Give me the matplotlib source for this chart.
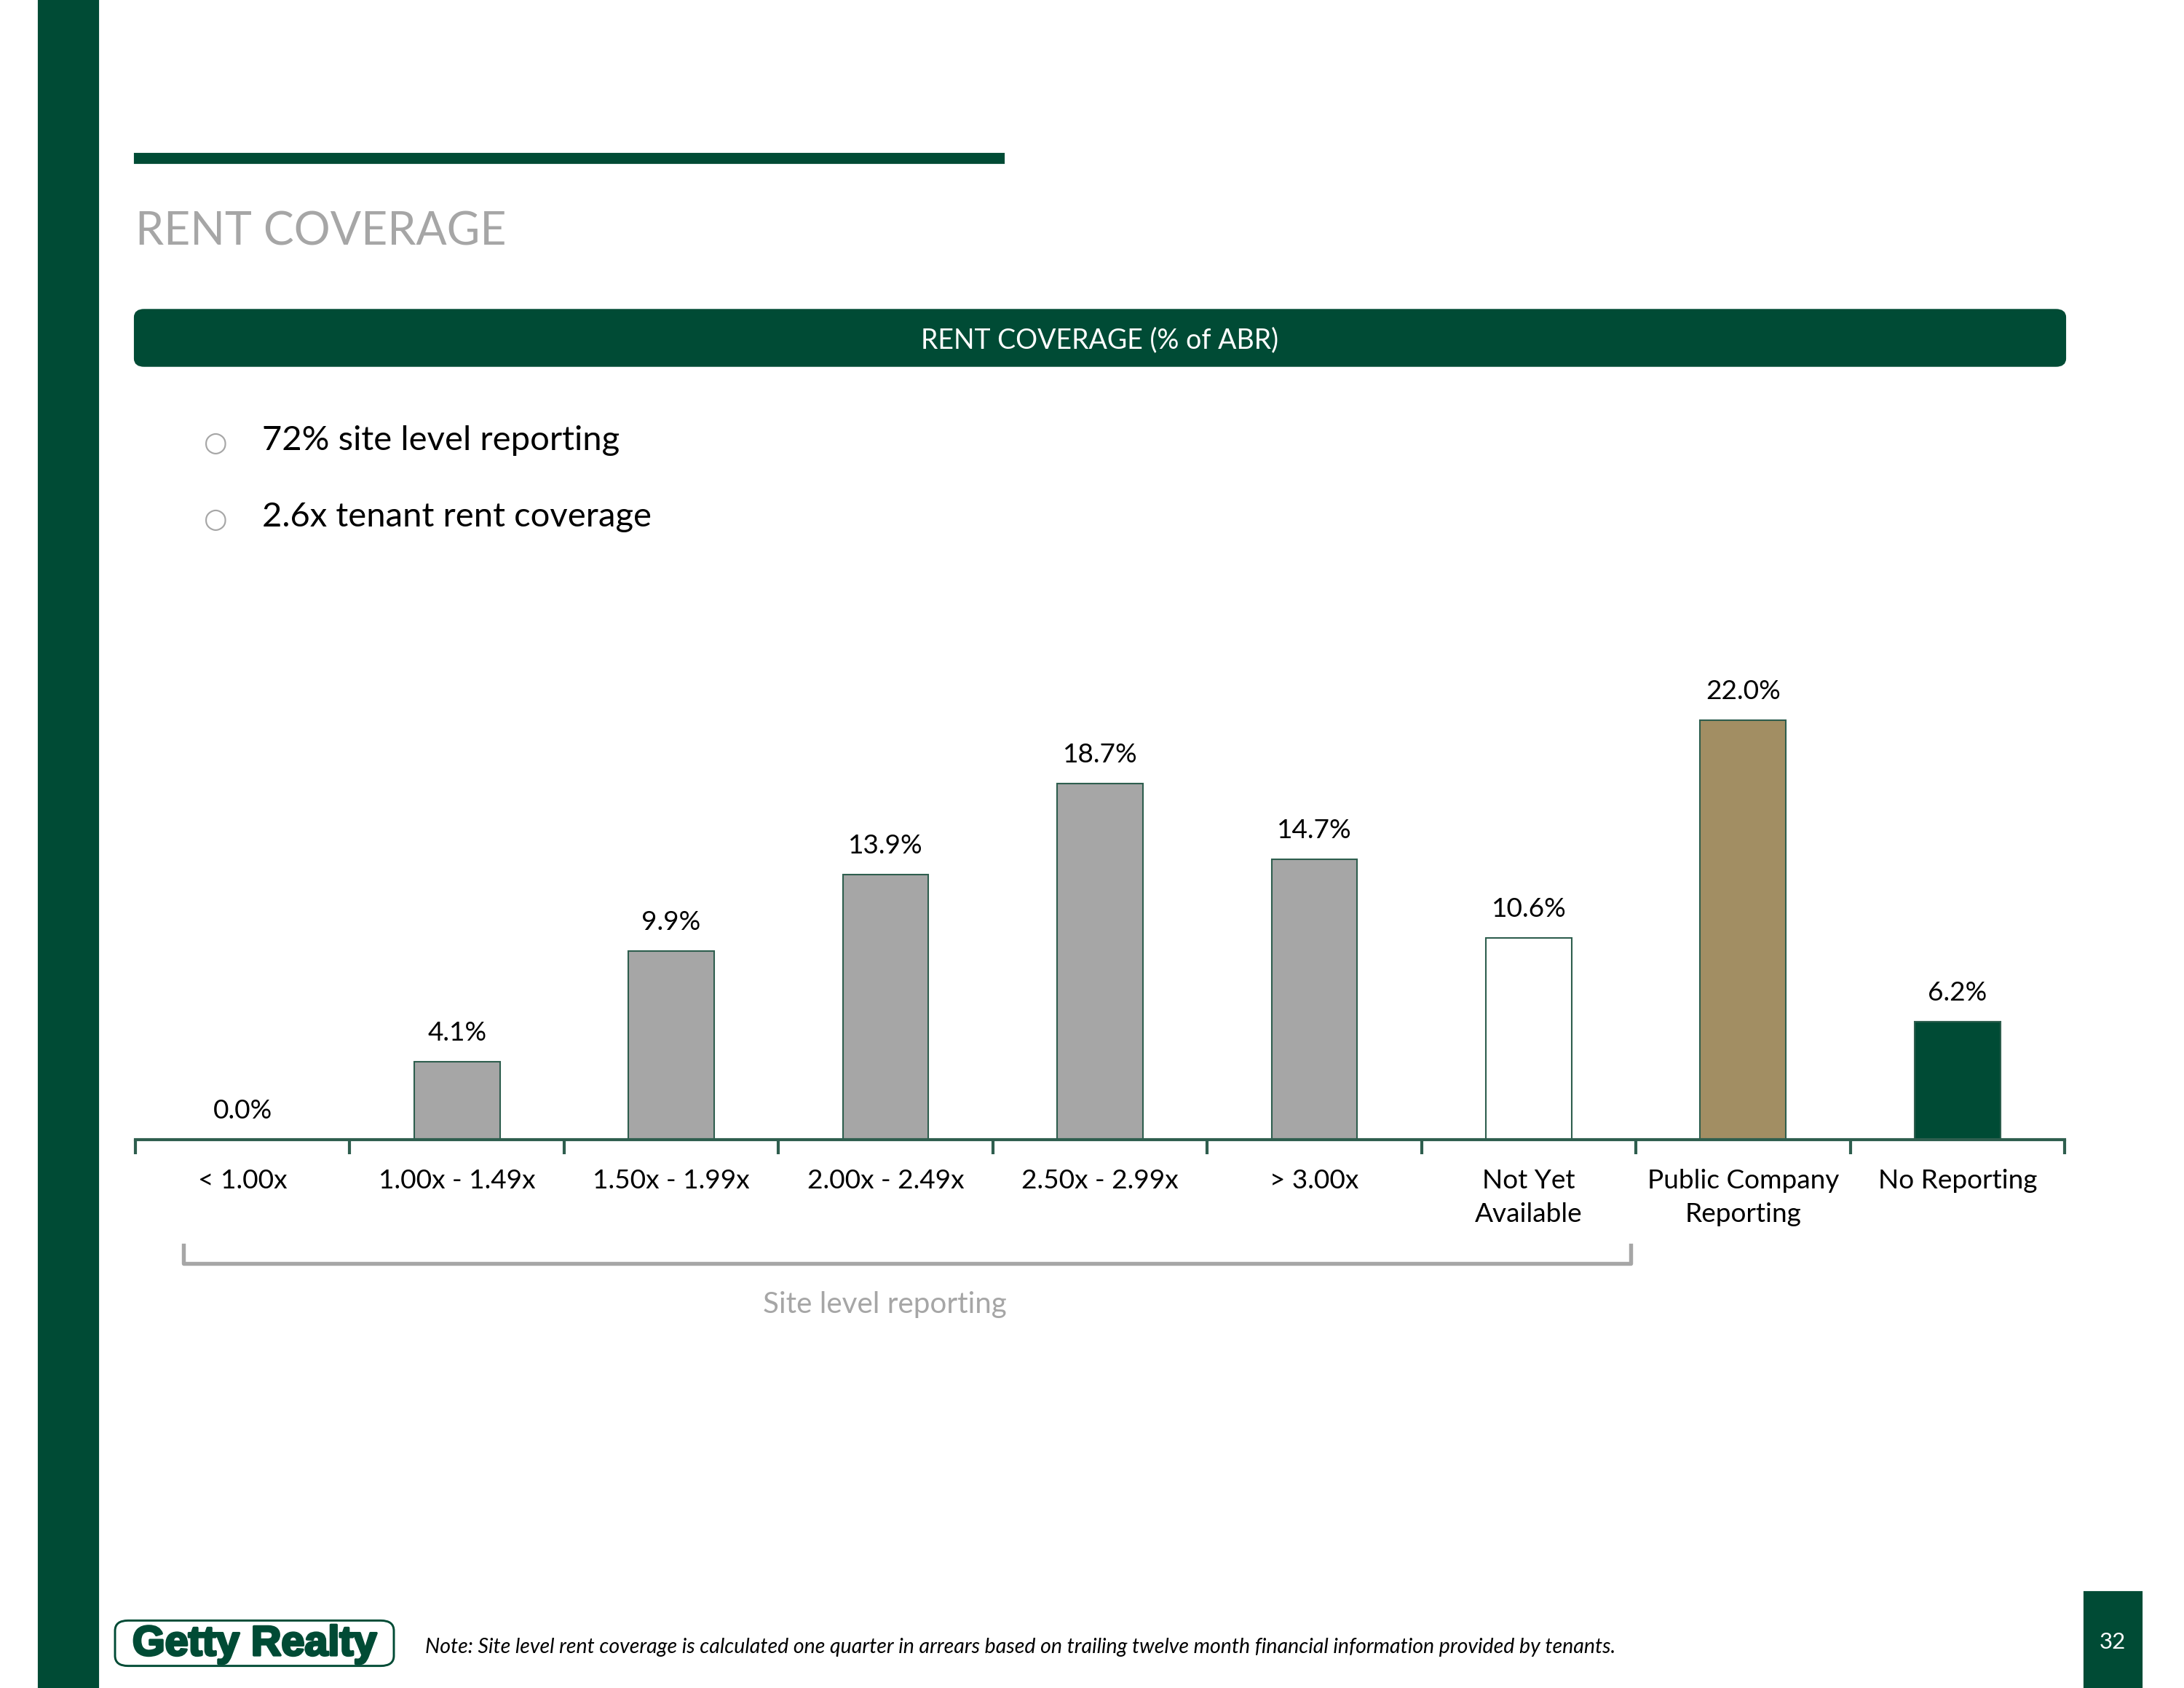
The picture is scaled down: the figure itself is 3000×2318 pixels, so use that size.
import matplotlib
matplotlib.use("Agg")
import matplotlib.pyplot as plt
import matplotlib.patheffects as pe
from matplotlib.patches import Rectangle, FancyBboxPatch
import numpy as np

W, H = 3000, 2318
GREEN = "#004B35"
EDGE = "#2E5E4E"
GRAY = "#A6A6A6"
TAN = "#A28E63"

categories = ["< 1.00x", "1.00x - 1.49x", "1.50x - 1.99x", "2.00x - 2.49x",
              "2.50x - 2.99x", "> 3.00x", "Not Yet\nAvailable",
              "Public Company\nReporting", "No Reporting"]
values = [0.0, 4.1, 9.9, 13.9, 18.7, 14.7, 10.6, 22.0, 6.2]
bar_colors = [GRAY] * 6 + ["#FFFFFF", TAN, GREEN]
bullets = ["72% site level reporting", "2.6x tenant rent coverage"]

plt.rcParams["font.family"] = ["Lato", "DejaVu Sans"]

fig = plt.figure(figsize=(W / 300, H / 300), dpi=300)
fig.patch.set_facecolor("white")


def fx(x):
    return x / W


def fy(y):
    return 1 - y / H


# page decoration
fig.patches.append(Rectangle((fx(54), 0), fx(134) - fx(54), 1,
                             transform=fig.transFigure, color=GREEN, zorder=0))
fig.patches.append(Rectangle((fx(186), fy(223)), fx(1378) - fx(186), (223 - 212) / H,
                             transform=fig.transFigure, color=GREEN, zorder=0))
fig.text(fx(186), fy(318), "RENT COVERAGE", color=GRAY, fontsize=15,
         ha="left", va="center")

banner = FancyBboxPatch((fx(192), fy(497)), fx(2830) - fx(192), (497 - 431) / H,
                        boxstyle="round,pad=0.002,rounding_size=0.004",
                        transform=fig.transFigure, facecolor=GREEN,
                        edgecolor=GREEN, zorder=0)
fig.patches.append(banner)
fig.text(fx(1511), fy(467), "RENT COVERAGE (% of ABR)", color="white",
         fontsize=9.0, ha="center", va="center")

for i, b in enumerate(bullets):
    yy = 605 + i * 105
    fig.text(fx(296), fy(yy + 4), "○", color=GRAY, fontsize=9,
             ha="center", va="center", family=["DejaVu Sans"])
    fig.text(fx(360), fy(yy), b, color="black", fontsize=11.3,
             ha="left", va="center")

# bar chart
ymax = 25
px_per = 26.17
base_y = 1565
ax = fig.add_axes([fx(186), 1 - base_y / H, fx(2836) - fx(186), ymax * px_per / H])
x = np.arange(len(categories))
ax.bar(x, values, width=0.4, color=bar_colors, edgecolor=EDGE, linewidth=0.5,
       zorder=2)
for xi, v in zip(x, values):
    ax.annotate(f"{v:.1f}%", (xi, v), xytext=(0, 9.5), textcoords="offset points",
                ha="center", va="center", fontsize=8.9, color="black")
ax.set_xlim(-0.5, len(categories) - 0.5)
ax.set_ylim(0, ymax)
for s in ["top", "right", "left"]:
    ax.spines[s].set_visible(False)
ax.spines["bottom"].set_color(EDGE)
ax.spines["bottom"].set_linewidth(1.0)
ax.set_yticks([])
ax.set_xticks(np.arange(-0.5, len(categories), 1.0))
ax.set_xticklabels([])
ax.tick_params(axis="x", which="major", length=4.8, width=1.0, color=EDGE)
ax.set_xticks(x, minor=True)
ax.set_xticklabels(categories, minor=True, fontsize=8.9, linespacing=1.5)
ax.tick_params(axis="x", which="minor", length=0, pad=9.5)
ax.patch.set_alpha(0)

# bracket for site-level reporting
fig.add_artist(plt.Line2D([fx(252), fx(252), fx(2240), fx(2240)],
                          [fy(1710), fy(1735), fy(1735), fy(1710)],
                          transform=fig.transFigure, color=GRAY, linewidth=1.3))
fig.text(fx(1215), fy(1791), "Site level reporting", color=GRAY, fontsize=9.7,
         ha="center", va="center")

# footer
logo = FancyBboxPatch((fx(164), fy(2283)), fx(535) - fx(164), (2283 - 2230) / H,
                      boxstyle="round,pad=0.002,rounding_size=0.006",
                      transform=fig.transFigure, facecolor="white",
                      edgecolor=GREEN, linewidth=0.7)
fig.patches.append(logo)
fig.text(fx(350), fy(2258), "Getty Realty", color=GREEN, fontsize=13.8,
         fontweight="bold", ha="center", va="center",
         family=["Liberation Sans"],
         path_effects=[pe.withStroke(linewidth=0.8, foreground=GREEN)])
fig.text(fx(584), fy(2262), "Note: Site level rent coverage is calculated one quarter in "
         "arrears based on trailing twelve month financial information provided by tenants.",
         fontsize=6.85, style="italic", ha="left", va="center", color="black")
fig.patches.append(Rectangle((fx(2864), 0), fx(2941) - fx(2864), (2318 - 2187) / H,
                             transform=fig.transFigure, color=GREEN, zorder=0))
fig.text(fx(2902), fy(2255), "32", color="white", fontsize=7.5,
         ha="center", va="center")

fig.savefig("out.png", dpi=300, facecolor="white")
